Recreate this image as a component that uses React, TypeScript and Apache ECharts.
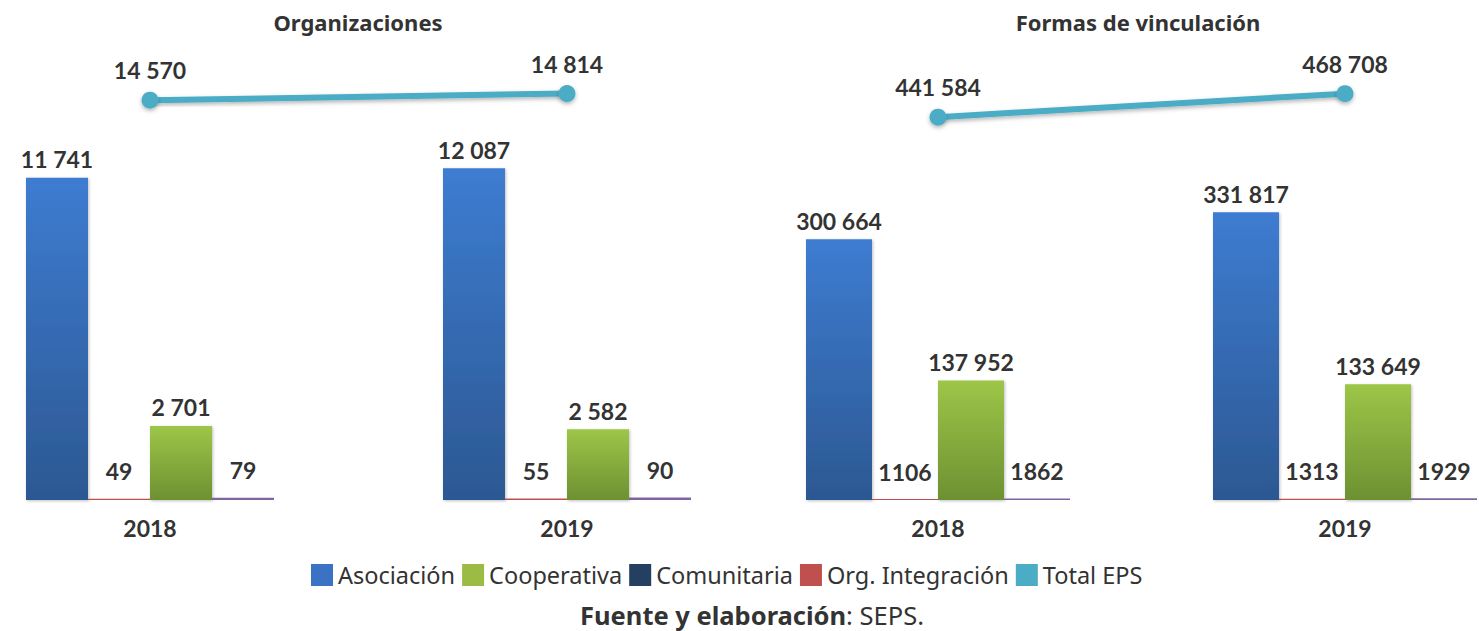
import React, { useEffect, useRef } from "react";
import * as echarts from "echarts";

const years = ["2018", "2019"];

// Organizaciones
const orgAsociacion = [11741, 12087];
const orgIntegracion = [49, 55];
const orgCooperativa = [2701, 2582];
const orgComunitaria = [79, 90];
const orgTotal = [14570, 14814];

// Formas de vinculación
const vinAsociacion = [300664, 331817];
const vinIntegracion = [1106, 1313];
const vinCooperativa = [137952, 133649];
const vinComunitaria = [1862, 1929];
const vinTotal = [441584, 468708];

const FONT = "Lato, 'Noto Sans', sans-serif";
const FONT2 = "'Noto Sans', Lato, sans-serif";
const TEXT = "#333333";

const fmt = (v: number) =>
  v < 2000 ? String(v) : String(v).replace(/\B(?=(\d{3})+(?!\d))/g, " ");

const blueGrad = new echarts.graphic.LinearGradient(0, 0, 0, 1, [
  { offset: 0, color: "#3D7CD1" },
  { offset: 1, color: "#2C5892" },
]);
const greenGrad = new echarts.graphic.LinearGradient(0, 0, 0, 1, [
  { offset: 0, color: "#9DC648" },
  { offset: 1, color: "#6D9132" },
]);

const barShadow = {
  shadowBlur: 3,
  shadowColor: "rgba(0,0,0,0.25)",
  shadowOffsetX: 1,
  shadowOffsetY: 1,
};

function panelSeries(
  idx: number,
  asoc: number[],
  integ: number[],
  coop: number[],
  comun: number[],
  total: number[],
  barWidth: number
) {
  const lbl = (distance: number) => ({
    show: true,
    position: "top",
    distance,
    formatter: (p: any) => fmt(p.value),
    fontFamily: FONT,
    fontSize: 23,
    fontWeight: "bold",
    color: TEXT,
  });
  const base = { type: "bar", xAxisIndex: idx, yAxisIndex: idx, barWidth, barGap: "0%" };
  return [
    { ...base, name: "Asociación", data: asoc, itemStyle: { color: blueGrad, ...barShadow }, label: lbl(7) },
    { ...base, name: "Org. Integración", data: integ, itemStyle: { color: "#C0504D" }, label: lbl(16) },
    { ...base, name: "Cooperativa", data: coop, itemStyle: { color: greenGrad, ...barShadow }, label: lbl(7) },
    { ...base, name: "Comunitaria", data: comun, itemStyle: { color: "#8064A2" }, label: lbl(16) },
    {
      type: "line",
      name: "Total EPS",
      xAxisIndex: idx,
      yAxisIndex: idx,
      data: total,
      symbol: "circle",
      symbolSize: 17,
      lineStyle: {
        width: 6,
        color: "#4BACC6",
        shadowBlur: 4,
        shadowColor: "rgba(0,0,0,0.3)",
        shadowOffsetY: 2,
      },
      itemStyle: { color: "#4BACC6", shadowBlur: 4, shadowColor: "rgba(0,0,0,0.3)", shadowOffsetY: 2 },
      label: {
        show: true,
        position: "top",
        distance: 10,
        formatter: (p: any) => fmt(p.value),
        fontFamily: FONT,
        fontSize: 23,
        fontWeight: "bold",
        color: TEXT,
      },
      z: 5,
    },
  ];
}

const xAxisBase = {
  type: "category",
  data: years,
  axisLine: { show: false },
  axisTick: { show: false },
  axisLabel: { fontFamily: FONT, fontSize: 23, fontWeight: "bold", color: TEXT, margin: 16 },
};

export default function App() {
  const ref = useRef<HTMLDivElement>(null);
  useEffect(() => {
    if (!ref.current) return;
    const chart = echarts.init(ref.current, undefined, { renderer: "svg" });
    chart.setOption({
      animation: false,
      backgroundColor: "#ffffff",
      grid: [
        { left: -58.5, width: 834, top: 61, height: 439, outerBoundsMode: "none", containLabel: false },
        { left: 734.5, width: 814, top: 66.5, height: 433.5, outerBoundsMode: "none", containLabel: false },
      ],
      xAxis: [
        { ...xAxisBase, gridIndex: 0 },
        { ...xAxisBase, gridIndex: 1 },
      ],
      yAxis: [
        { type: "value", gridIndex: 0, min: 0, max: 16000, show: false, splitLine: { show: false } },
        { type: "value", gridIndex: 1, min: 0, max: 500000, show: false, splitLine: { show: false } },
      ],
      legend: {
        left: 306,
        top: 558,
        icon: "rect",
        itemWidth: 22,
        itemHeight: 22,
        itemGap: 7,
        textStyle: { fontFamily: FONT2, fontSize: 23.5, color: TEXT, padding: [0, 0, 0, 0] },
        data: [
          { name: "Asociación", itemStyle: { color: "#3A73C4" } },
          { name: "Cooperativa", itemStyle: { color: "#9BBB45" } },
          { name: "Comunitaria", itemStyle: { color: "#243F60" } },
          { name: "Org. Integración", itemStyle: { color: "#C0504D" } },
          { name: "Total EPS", itemStyle: { color: "#4BACC6" } },
        ],
      },
      graphic: [
        {
          type: "text",
          x: 358,
          y: 22,
          style: {
            text: "Organizaciones",
            fontFamily: FONT2,
            fontSize: 22,
            fontWeight: "bold",
            fill: TEXT,
            align: "center",
            verticalAlign: "middle",
          },
        },
        {
          type: "text",
          x: 1138,
          y: 22,
          style: {
            text: "Formas de vinculación",
            fontFamily: FONT2,
            fontSize: 22,
            fontWeight: "bold",
            fill: TEXT,
            align: "center",
            verticalAlign: "middle",
          },
        },
        {
          type: "text",
          x: 752,
          y: 615,
          style: {
            text: "{b|Fuente y elaboración}{r|: SEPS.}",
            align: "center",
            verticalAlign: "middle",
            rich: {
              b: { fontFamily: FONT2, fontSize: 25.5, fontWeight: "bold", fill: TEXT },
              r: { fontFamily: FONT2, fontSize: 25.5, fill: TEXT },
            },
          },
        },
      ],
      series: [
        ...panelSeries(0, orgAsociacion, orgIntegracion, orgCooperativa, orgComunitaria, orgTotal, 62),
        ...panelSeries(1, vinAsociacion, vinIntegracion, vinCooperativa, vinComunitaria, vinTotal, 66),
      ],
    });
    return () => chart.dispose();
  }, []);
  return (
    <div
      ref={ref}
      style={{ position: "absolute", left: 0, top: 0, width: 1479, height: 631 }}
    />
  );
}
